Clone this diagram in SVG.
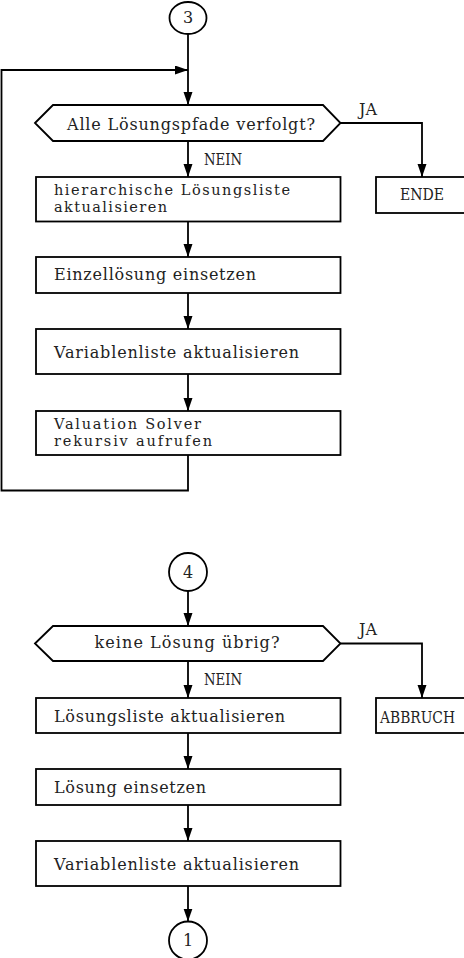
<svg xmlns="http://www.w3.org/2000/svg" width="464" height="958" viewBox="0 0 464 958">
<style>
.s{fill:#fff;stroke:#000;stroke-width:1.8}
.c{fill:none;stroke:#000;stroke-width:1.8}
text{font-family:"DejaVu Serif","Liberation Serif",serif;font-size:16px;fill:#222}
.t{font-size:14.5px}
.m{text-anchor:middle}
</style>
<defs>
<marker id="a" markerUnits="userSpaceOnUse" markerWidth="14" markerHeight="10" refX="13" refY="4.5" orient="auto">
<path d="M0,0 L13,4.5 L0,9 z" fill="#000"/>
</marker>
</defs>
<rect width="464" height="958" fill="#fff"/>
<g id="connectors">
<path class="c" d="M188,34 V105" marker-end="url(#a)"/>
<path class="c" d="M188,455 V490.5 H1.5 V70 H188" marker-end="url(#a)"/>
<path class="c" d="M188,141 V177" marker-end="url(#a)"/>
<path class="c" d="M340.5,123 H422 V177" marker-end="url(#a)"/>
<path class="c" d="M188,222 V257" marker-end="url(#a)"/>
<path class="c" d="M188,293 V329" marker-end="url(#a)"/>
<path class="c" d="M188,374 V411" marker-end="url(#a)"/>
<path class="c" d="M188,591 V626" marker-end="url(#a)"/>
<path class="c" d="M188,661 V698" marker-end="url(#a)"/>
<path class="c" d="M340.5,643.5 H422 V698" marker-end="url(#a)"/>
<path class="c" d="M188,733 V769" marker-end="url(#a)"/>
<path class="c" d="M188,805 V841" marker-end="url(#a)"/>
<path class="c" d="M188,886 V921.5" marker-end="url(#a)"/>
<text x="359" y="115" textLength="18" lengthAdjust="spacingAndGlyphs">JA</text>
<text x="204" y="165" textLength="38" lengthAdjust="spacingAndGlyphs">NEIN</text>
<text x="359" y="635" textLength="18" lengthAdjust="spacingAndGlyphs">JA</text>
<text x="204" y="685" textLength="38" lengthAdjust="spacingAndGlyphs">NEIN</text>
</g>
<g id="c3">
<ellipse class="s" cx="188" cy="18" rx="18.5" ry="16"/>
<text class="m" x="188" y="23">3</text>
</g>
<g id="d1">
<path class="s" d="M35,123 L53,105 H323 L340.5,123 L323,141 H53 Z"/>
<text x="67" y="130" textLength="248" lengthAdjust="spacing">Alle Lösungspfade verfolgt?</text>
</g>
<g id="ende">
<rect class="s" x="376" y="177" width="95" height="36"/>
<text x="400" y="200" textLength="44" lengthAdjust="spacingAndGlyphs">ENDE</text>
</g>
<g id="b1">
<rect class="s" x="36" y="177" width="304.5" height="44.5"/>
<text class="t" x="54" y="195" textLength="236" lengthAdjust="spacing">hierarchische Lösungsliste</text>
<text class="t" x="54" y="212" textLength="113" lengthAdjust="spacing">aktualisieren</text>
</g>
<g id="b2">
<rect class="s" x="36" y="257" width="304.5" height="36"/>
<text x="54" y="280" textLength="202" lengthAdjust="spacing">Einzellösung einsetzen</text>
</g>
<g id="b3">
<rect class="s" x="36" y="329" width="304.5" height="45"/>
<text x="54" y="358" textLength="245" lengthAdjust="spacing">Variablenliste aktualisieren</text>
</g>
<g id="b4">
<rect class="s" x="36" y="411" width="304.5" height="44"/>
<text class="t" x="54" y="429" textLength="147" lengthAdjust="spacing">Valuation Solver</text>
<text class="t" x="54" y="446" textLength="158" lengthAdjust="spacing">rekursiv aufrufen</text>
</g>
<g id="c4">
<circle class="s" cx="188" cy="572" r="19"/>
<text class="m" x="188" y="578">4</text>
</g>
<g id="d2">
<path class="s" d="M35,643.5 L53,626 H323 L340.5,643.5 L323,661 H53 Z"/>
<text x="94.5" y="648" textLength="185" lengthAdjust="spacing">keine Lösung übrig?</text>
</g>
<g id="abbruch">
<rect class="s" x="376" y="698" width="95" height="35"/>
<text x="380" y="723" textLength="75" lengthAdjust="spacingAndGlyphs">ABBRUCH</text>
</g>
<g id="b5">
<rect class="s" x="36" y="698" width="304.5" height="35"/>
<text x="54" y="722" textLength="231" lengthAdjust="spacing">Lösungsliste aktualisieren</text>
</g>
<g id="b6">
<rect class="s" x="36" y="769" width="304.5" height="36"/>
<text x="54" y="793" textLength="152" lengthAdjust="spacing">Lösung einsetzen</text>
</g>
<g id="b7">
<rect class="s" x="36" y="841" width="304.5" height="45"/>
<text x="54" y="870" textLength="245" lengthAdjust="spacing">Variablenliste aktualisieren</text>
</g>
<g id="c1">
<circle class="s" cx="188" cy="940.5" r="19"/>
<text class="m" x="188" y="946">1</text>
</g>
</svg>
